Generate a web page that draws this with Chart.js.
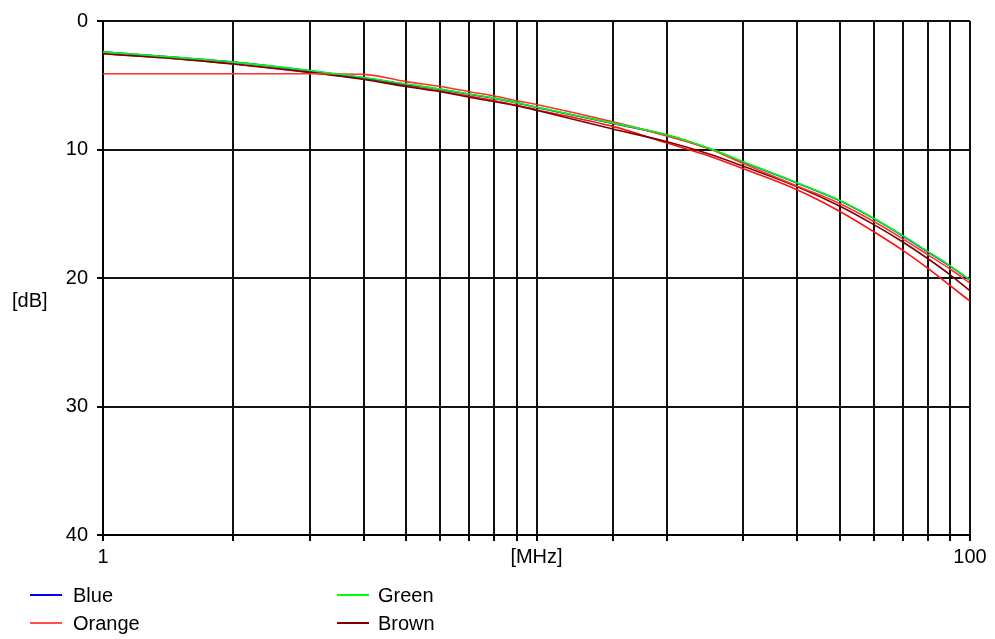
<!DOCTYPE html>
<html>
<head>
<meta charset="utf-8">
<script src="https://cdn.jsdelivr.net/npm/chart.js@4"></script>
<style>
    body { margin: 0; background: #fff; }
    #wrap { position: relative; width: 995px; height: 639px; font-family: 'Liberation Sans', Arial, sans-serif; font-size: 20px; color: #000; }
    #chart { position: absolute; left: 0; top: 0; }
    .lbl { position: absolute; line-height: 20px; white-space: nowrap; }
    .key { position: absolute; height: 2px; width: 32px; }
</style>
</head>
<body>
<div id="wrap">
    <canvas id="chart" width="995" height="639"></canvas>
    <div class="lbl" style="left:12px; top:290px;">[dB]</div>

    <div class="key" style="left:30px; top:594px; background:#0000ff;"></div>
    <div class="lbl" style="left:73px; top:585px;">Blue</div>
    <div class="key" style="left:30px; top:622px; background:#ff5050;"></div>
    <div class="lbl" style="left:73px; top:613px;">Orange</div>
    <div class="key" style="left:337px; top:594px; background:#00ff00;"></div>
    <div class="lbl" style="left:378px; top:585px;">Green</div>
    <div class="key" style="left:337px; top:622px; background:#800000;"></div>
    <div class="lbl" style="left:378px; top:613px;">Brown</div>
</div>

<script>

/// DADOS (frequência em MHz, atenuação em dB)

const freqs  = [1, 1.5, 2, 3, 4, 5, 6, 7, 8, 9, 10, 15, 20, 25, 30, 40, 50, 60, 70, 80, 90, 100];

const blue   = [2.4, 2.85, 3.2, 3.87, 4.42, 4.93, 5.32, 5.7, 6.02, 6.37, 6.72, 7.97, 8.88, 9.93, 10.98, 12.63, 13.98, 15.38, 16.73, 17.98, 19.08, 20.18];
const green  = [2.4, 2.85, 3.2, 3.85, 4.4, 4.9, 5.3, 5.68, 6.0, 6.35, 6.7, 7.95, 8.85, 9.9, 10.95, 12.6, 13.95, 15.35, 16.7, 17.95, 19.05, 20.15];
const orange = [4.1, 4.1, 4.1, 4.1, 4.15, 4.72, 5.1, 5.5, 5.84, 6.2, 6.5, 7.85, 8.95, 9.95, 11.1, 12.85, 14.2, 15.6, 16.95, 18.2, 19.3, 20.4];
const brown  = [2.55, 2.95, 3.35, 4.0, 4.55, 5.1, 5.5, 5.94, 6.28, 6.6, 6.95, 8.4, 9.4, 10.35, 11.3, 12.9, 14.4, 15.85, 17.2, 18.5, 19.75, 21.0];
// traço vermelho sem legenda (o mais baixo no fim)
const red    = [2.55, 2.95, 3.35, 4.0, 4.5, 5.05, 5.45, 5.85, 6.2, 6.55, 6.9, 8.2, 9.5, 10.5, 11.5, 13.15, 14.8, 16.4, 17.85, 19.25, 20.6, 21.8];

const y_ticks = [0, 10, 20, 30, 40];
const x_labels = { 1: '1', 10: '[MHz]', 100: '100' };


function pontos(valores) {
    return freqs.map(function (f, i) {
        return { x: f, y: valores[i] };
    });
}

function serie(label, valores, cor) {
    return {
        label: label,
        data: pontos(valores),
        borderColor: cor,
        backgroundColor: cor,
        borderWidth: 1.6,
        pointRadius: 0,
        cubicInterpolationMode: 'monotone',
        fill: false
    };
}

const fonte = { family: "'Liberation Sans', Arial, sans-serif", size: 20 };

const ctx = document.getElementById('chart');

// o primeiro dataset fica por cima
new Chart(ctx, {
    type: 'line',
    data: {
        datasets: [
            serie('Green', green, '#00ff00'),
            serie('Orange', orange, '#ff3030'),
            serie('Blue', blue, '#0000ff'),
            serie('Brown', brown, '#800000'),
            serie('', red, '#ff1010')
        ]
    },
    options: {
        responsive: false,
        animation: false,
        layout: {
            padding: { top: 21, right: 25, left: 0, bottom: 0 }
        },
        plugins: {
            legend: { display: false },
            tooltip: { enabled: false }
        },
        scales: {
            x: {
                type: 'logarithmic',
                min: 1,
                max: 100,
                border: { color: '#000', width: 2 },
                grid: {
                    color: '#111',
                    lineWidth: 2,
                    tickLength: 6,
                    tickColor: '#000'
                },
                ticks: {
                    autoSkip: false,
                    maxRotation: 0,
                    padding: 4,
                    color: '#000',
                    font: fonte,
                    callback: function (value) {
                        return x_labels[value] !== undefined ? x_labels[value] : '';
                    }
                },
                afterFit: function (scale) {
                    scale.height = 104;
                }
            },
            y: {
                reverse: true,
                min: 0,
                max: 40,
                border: { color: '#000', width: 2 },
                grid: {
                    color: '#111',
                    lineWidth: 2,
                    tickLength: 6,
                    tickColor: '#000'
                },
                afterBuildTicks: function (scale) {
                    scale.ticks = y_ticks.map(function (v) { return { value: v }; });
                },
                ticks: {
                    padding: 9,
                    color: '#000',
                    font: fonte
                },
                afterFit: function (scale) {
                    scale.width = 103;
                }
            }
        }
    }
});

</script>
</body>
</html>
